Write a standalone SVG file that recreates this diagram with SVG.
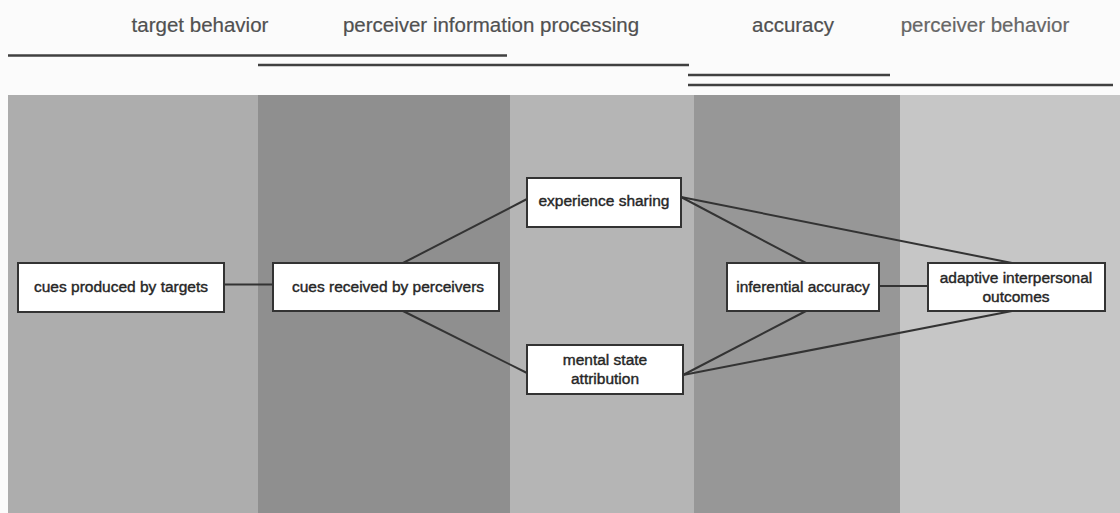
<svg xmlns="http://www.w3.org/2000/svg" width="1120" height="513" viewBox="0 0 1120 513">
<style>
.hd{font-family:"Liberation Sans",Arial,sans-serif;font-size:20.5px;fill:#505050;text-anchor:middle;stroke:#505050;stroke-width:0.2}
.rule{stroke:#404040;stroke-width:2.5;fill:none}
.box{fill:#fff;stroke:#333;stroke-width:2}
.lbl{font-family:"Liberation Sans",Arial,sans-serif;font-size:15.5px;fill:#262626;text-anchor:middle;stroke:#262626;stroke-width:0.4}
.con{stroke:#333;stroke-width:2;fill:none}
</style>
<rect x="0" y="0" width="1120" height="513" fill="#fbfbfb"/>
<g id="bands">
<rect x="8" y="95" width="250" height="418" fill="#adadad"/>
<rect x="258" y="95" width="252" height="418" fill="#8f8f8f"/>
<rect x="510" y="95" width="184" height="418" fill="#b5b5b5"/>
<rect x="694" y="95" width="206" height="418" fill="#979797"/>
<rect x="900" y="95" width="220" height="418" fill="#c6c6c6"/>
</g>
<g id="headings">
<text class="hd" x="200" y="32">target behavior</text>
<text class="hd" x="491" y="32">perceiver information processing</text>
<text class="hd" x="793" y="32">accuracy</text>
<text class="hd" x="985" y="32" style="fill:#666;stroke:#666">perceiver behavior</text>
</g>
<g id="rules">
<line class="rule" x1="8" y1="55.5" x2="507" y2="55.5"/>
<line class="rule" x1="258" y1="65" x2="689" y2="65"/>
<line class="rule" x1="688" y1="75" x2="890" y2="75"/>
<line class="rule" x1="688" y1="85" x2="1113" y2="85"/>
</g>
<g id="connectors">
<line class="con" x1="224" y1="284.5" x2="273" y2="284.5"/>
<line class="con" x1="403" y1="263" x2="527" y2="199"/>
<line class="con" x1="403" y1="311" x2="527" y2="373"/>
<line class="con" x1="681" y1="197" x2="806" y2="263"/>
<line class="con" x1="681" y1="197" x2="1012" y2="263"/>
<line class="con" x1="683" y1="375" x2="806" y2="311"/>
<line class="con" x1="683" y1="375" x2="1012" y2="311"/>
<line class="con" x1="879" y1="286" x2="928" y2="286"/>
</g>
<g id="node-cues-produced">
<rect class="box" x="18" y="263" width="206" height="49"/>
<text class="lbl" x="121" y="292">cues produced by targets</text>
</g>
<g id="node-cues-received">
<rect class="box" x="273" y="263" width="226" height="48"/>
<text class="lbl" x="388" y="292">cues received by perceivers</text>
</g>
<g id="node-experience-sharing">
<rect class="box" x="527" y="178" width="154" height="49"/>
<text class="lbl" x="604" y="206">experience sharing</text>
</g>
<g id="node-mental-state">
<rect class="box" x="527" y="345" width="156" height="49"/>
<text class="lbl" x="605" y="365">mental state</text>
<text class="lbl" x="605" y="384">attribution</text>
</g>
<g id="node-inferential-accuracy">
<rect class="box" x="727" y="263" width="152" height="48"/>
<text class="lbl" x="803" y="292">inferential accuracy</text>
</g>
<g id="node-adaptive-outcomes">
<rect class="box" x="928" y="263" width="177" height="48"/>
<text class="lbl" x="1016" y="283">adaptive interpersonal</text>
<text class="lbl" x="1016" y="302">outcomes</text>
</g>
</svg>
